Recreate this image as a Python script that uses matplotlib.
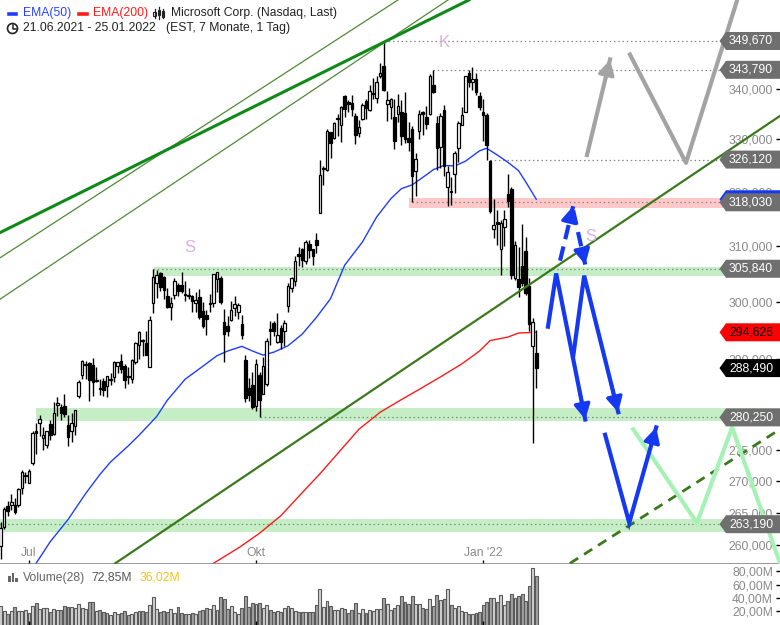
import numpy as np
import matplotlib
matplotlib.use('Agg')
import matplotlib.pyplot as plt
from matplotlib.patches import Polygon, Circle, Rectangle
from matplotlib.lines import Line2D
from matplotlib.transforms import IdentityTransform
from matplotlib.ticker import FixedLocator, FuncFormatter, NullLocator

plt.rcParams['font.family'] = ['Liberation Sans', 'DejaVu Sans']

# ---------------- data (trading-day index 0 = 21.06.2021 ... 151 = 25.01.2022)
opens = [259.82, 262.72, 265.99, 266.16, 266.23, 266.19, 268.87, 270.69,
         269.61, 272.82, 278.03, 279.40, 276.90, 275.72, 279.16, 277.52, 282.35, 282.00, 282.07,
         278.93, 278.03, 278.90, 283.84, 287.37, 289.00, 289.43, 288.99, 286.24, 285.18,
         286.36, 285.42, 286.42, 286.90, 288.90, 289.75, 288.80, 287.21, 286.63, 289.48, 292.36,
         293.19, 292.70, 288.69, 299.72, 303.25, 305.02, 304.30, 300.99, 298.99, 301.12, 302.87,
         302.87, 301.31, 300.99, 301.01, 299.78, 300.82, 298.42, 297.55, 299.56, 299.78, 303.97,
         304.17, 296.33, 295.69, 296.73, 298.85, 298.23, 296.14, 289.80, 285.10, 285.71,
         282.12, 287.40, 284.05, 285.78, 295.18, 296.22, 292.92, 295.34, 294.91, 299.21, 302.34,
         303.57, 308.35, 309.36, 307.17, 310.40, 309.36, 311.00, 316.00, 324.33, 324.13,
         331.36, 330.31, 333.90, 332.89, 338.51, 337.30, 337.11, 334.57, 331.25, 333.92, 337.54,
         335.68, 338.94, 338.18, 342.64, 344.62, 337.05, 336.28, 334.35, 334.94, 335.32,
         335.13, 330.30, 331.99, 323.95, 331.64, 335.31, 334.41, 334.98, 340.68, 333.22, 328.61,
         335.71, 320.88, 320.05, 323.29, 328.30, 332.75, 335.46, 343.15, 341.30, 341.91, 338.51,
         335.35, 334.83, 325.86, 313.15, 314.15, 309.49, 313.38, 319.67, 320.47, 304.25, 304.07,
         306.29, 309.07, 302.69, 292.20, 291.12]
highs = [263.52, 265.79, 266.83, 267.85, 267.25, 268.90, 271.65, 271.36,
         271.84, 278.00, 279.37, 280.69, 278.73, 278.05, 279.77, 282.85, 283.66, 282.51, 284.10,
         280.69, 280.97, 281.52, 286.42, 289.85, 289.69, 289.58, 290.15, 288.62, 286.66,
         286.77, 287.23, 287.59, 289.63, 289.50, 290.88, 289.25, 288.66, 289.97, 292.90, 294.82,
         293.42, 294.82, 297.47, 305.84, 305.65, 305.32, 304.59, 302.43, 300.87, 304.15, 303.24,
         305.19, 303.65, 302.40, 301.09, 301.61, 302.14, 299.92, 298.54, 301.39, 304.60, 305.31,
         304.50, 298.72, 297.54, 300.07, 300.90, 299.80, 297.61, 290.78, 286.77, 287.83,
         289.98, 287.75, 290.40, 293.63, 296.64, 296.64, 297.97, 295.95, 296.83, 303.35, 304.45,
         308.21, 309.70, 309.55, 311.09, 311.09, 309.40, 312.40, 326.10, 324.86, 332.00,
         331.49, 333.45, 334.90, 336.54, 338.79, 337.65, 338.72, 335.19, 333.77, 337.23, 337.88,
         340.67, 342.19, 342.45, 345.10, 349.67, 339.45, 338.16, 337.93, 339.03, 337.78,
         339.28, 333.49, 332.70, 327.45, 335.80, 335.50, 336.49, 343.00, 343.79, 334.64, 335.19,
         336.76, 324.92, 322.80, 327.73, 333.61, 336.39, 342.48, 343.81, 344.30, 343.13, 339.36,
         338.00, 335.20, 326.07, 318.70, 316.50, 314.72, 316.61, 323.41, 320.88, 310.82, 309.80,
         313.91, 311.65, 304.11, 297.11, 294.99]
lows = [257.92, 262.40, 264.43, 265.47, 264.76, 265.91, 267.98, 269.60,
        269.60, 272.50, 274.30, 277.15, 274.87, 275.32, 276.58, 277.39, 280.55, 279.83, 280.28,
        275.59, 276.26, 277.29, 283.42, 286.64, 286.64, 282.95, 283.83, 286.08, 283.91,
        283.74, 283.65, 285.65, 286.10, 287.62, 287.71, 285.20, 285.86, 285.93, 289.25, 290.03,
        290.50, 290.69, 288.64, 298.06, 300.70, 301.84, 300.42, 298.95, 296.83, 300.38, 301.00,
        301.49, 300.14, 300.39, 298.20, 298.10, 297.00, 295.38, 294.08, 298.10, 299.00, 301.74,
        299.52, 289.52, 294.07, 296.52, 297.53, 296.93, 293.50, 282.75, 283.01, 281.62,
        281.29, 280.25, 284.05, 285.51, 292.36, 293.92, 292.75, 291.73, 292.24, 298.24, 301.74,
        302.69, 306.33, 306.11, 306.70, 307.80, 306.46, 308.60, 316.00, 321.36, 323.90,
        326.37, 330.00, 330.65, 329.51, 334.42, 335.42, 334.53, 329.13, 330.51, 333.79, 334.03,
        335.51, 338.00, 337.12, 342.20, 339.55, 333.56, 333.91, 328.12, 333.41, 328.99,
        329.39, 327.80, 318.03, 319.23, 330.10, 330.80, 332.12, 334.79, 339.08, 324.11, 324.50,
        323.02, 317.25, 317.57, 319.80, 325.75, 332.73, 335.43, 340.32, 339.68, 338.82, 335.85,
        329.78, 326.12, 315.98, 311.49, 310.09, 304.69, 309.89, 317.08, 304.00, 303.75, 300.76,
        302.71, 301.14, 294.90, 276.05, 285.17]
closes = [262.63, 265.51, 265.27, 266.69, 265.02, 268.72, 271.40, 270.90,
          271.60, 277.65, 277.66, 279.93, 277.42, 277.94, 277.32, 280.98, 282.51, 281.03, 280.75,
          277.01, 279.32, 281.40, 286.14, 289.67, 289.05, 286.54, 286.22, 286.50, 284.91,
          284.82, 287.12, 286.51, 289.52, 289.46, 288.33, 286.44, 286.95, 289.81, 292.85, 294.60,
          293.08, 290.73, 296.77, 304.36, 304.65, 302.62, 302.01, 299.09, 299.72, 303.59, 301.88,
          301.83, 301.15, 301.14, 300.18, 300.21, 297.25, 295.71, 296.99, 299.79, 304.82, 305.22,
          299.87, 294.30, 294.80, 298.58, 299.56, 299.35, 294.17, 283.52, 284.00, 281.92,
          289.10, 283.11, 288.76, 293.11, 294.85, 294.85, 294.23, 292.88, 296.31, 302.75, 304.21,
          307.29, 308.23, 307.41, 310.76, 309.16, 308.13, 310.11, 323.17, 324.35, 331.62,
          329.37, 333.13, 334.00, 336.44, 336.06, 336.99, 335.95, 330.80, 332.43, 336.72, 336.07,
          339.51, 339.12, 341.27, 343.11, 339.83, 337.68, 337.91, 329.68, 336.63, 330.59,
          330.08, 329.49, 323.01, 326.19, 334.92, 334.97, 333.10, 342.54, 339.40, 328.34, 334.65,
          324.90, 323.80, 319.91, 327.29, 333.20, 334.69, 342.45, 341.25, 341.95, 339.32, 336.32,
          334.75, 329.01, 316.38, 313.88, 314.04, 314.27, 314.98, 318.27, 304.80, 310.20, 302.65,
          303.33, 301.60, 296.03, 296.37, 288.49]
volumes = [26.7, 19.7, 14.9, 19.4, 25.0, 19.6, 19.3, 21.6,
           16.7, 26.5, 31.6, 23.3, 24.6, 23.9, 17.9, 23.3, 21.6, 20.6, 27.1, 26.4, 26.4, 24.4,
           30.5, 24.9, 23.3, 33.6, 33.6, 18.9, 20.9,
           17.6, 16.4, 14.1, 18.3, 15.0, 17.0, 19.0, 13.9, 14.6, 18.2, 19.5, 19.3, 18.1, 29.0,
           40.8, 22.8, 18.2, 20.0, 17.7, 22.6, 16.5, 26.3,
           17.2, 14.6, 14.7, 17.1, 15.0, 18.9, 21.4, 23.6, 21.9, 28.4, 21.8, 41.4, 38.3, 22.4,
           26.6, 18.6, 14.9, 23.6, 43.2, 26.4, 32.3,
           30.1, 31.3, 24.9, 28.0, 20.4, 17.7, 19.2, 17.7, 23.4, 27.3, 24.7, 19.4, 17.6, 17.3,
           18.1, 17.4, 17.6, 28.1, 52.6, 25.4, 34.8,
           27.1, 21.0, 21.5, 23.9, 22.6, 17.0, 21.3, 32.4, 16.4, 22.3, 16.7, 20.9, 19.0, 21.9,
           22.5, 40.1, 30.4, 21.7, 24.2, 28.6, 42.9,
           33.4, 30.1, 41.8, 30.0, 31.0, 24.8, 22.2, 38.1, 27.9, 43.3, 35.8, 37.4, 52.5, 28.3,
           23.7, 26.5, 18.9, 17.9, 15.0, 15.0, 15.9, 18.0,
           28.9, 32.7, 40.1, 40.0, 32.7, 44.3, 29.4, 34.4, 45.4, 39.8, 42.3, 45.9, 35.4, 57.9,
           85.8, 72.85]

ema50_idx = [8, 10, 14, 19, 24, 28, 31, 36, 39, 44, 47, 52, 57, 61, 64, 68, 71, 74, 77, 81,
             85, 89, 93, 97, 102, 106, 110, 113, 116, 120, 122, 125, 128, 131, 135, 137, 140,
             143, 146, 148, 151]
ema50_val = [256.0, 257.2, 260.5, 263.9, 268.0, 271.0, 273.0, 275.6, 277.3, 280.4, 283.1,
             286.6, 288.8, 290.6, 291.4, 292.2, 291.4, 290.7, 291.2, 292.3, 294.3, 297.2,
             300.5, 306.5, 310.7, 315.3, 318.7, 320.6, 321.3, 323.2, 324.2, 325.0, 324.9,
             325.8, 327.8, 328.3, 327.0, 325.6, 324.0, 321.9, 318.6]
ema200_idx = [57, 60, 67.5, 73, 79, 84, 90, 96, 101, 107, 113, 118, 124, 130, 135, 138, 143,
              146, 151]
ema200_val = [256.2, 257.2, 259.7, 261.8, 264.5, 267.5, 271.1, 275.0, 278.3, 281.1, 283.2,
              284.9, 287.0, 289.2, 291.4, 293.2, 293.8, 294.5, 294.626]

tick_idx = [8, 72, 136]
tick_labels = ['Jul', 'Okt', "Jan '22"]
price_ticks = [260, 265, 270, 275, 280, 290, 300, 310, 320, 330, 340]
vol_ticks = [20, 40, 60, 80]

# marked levels and where their dotted lines start (trading-day index)
levels = [349.67, 343.79, 326.12, 318.03, 305.84, 280.25, 263.19]
level_start = [108, 122, 138, 116, 43, 73, -1]
# zones: (level, start index, low, high, colour)
bands = [(318.03, 115.2, 316.9, 318.8, '#ffc8c8'),
         (305.84, 43.2, 304.6, 306.2, '#c6eec6'),
         (280.25, 10.0, 279.7, 281.8, '#c6eec6'),
         (263.19, -1.0, 262.0, 264.0, '#c6eec6')]

# trend lines (index, price)
thick_line = ([-0.2, 132.0], [312.4, 358.2])
thin_line1 = ([-0.2, 112.0], [307.8, 358.2])
thin_line2 = ([-0.2, 126.1], [300.4, 358.2])
support_line = ([32.3, 219.7], [257.2, 334.6])
support_dashed = ([160.5, 219.7], [257.2, 278.3])

# scenario paths (index, price)
blue_path1 = ([154.3, 156.6, 164.8], [295.6, 305.0, 279.9])
blue_path2 = ([161.4, 164.5, 174.1], [290.5, 304.6, 281.1])
blue_dash_up = ([157.7, 161.4], [307.3, 317.3])
blue_dash_down = ([161.4, 164.8], [316.5, 306.6])
blue_v = ([170.4, 177.2, 184.8], [277.4, 263.4, 278.6])
green_path = ([178.3, 196.3, 206.2, 220.5], [278.3, 263.4, 278.6, 256.0])
gray_arrow = ([165.3, 171.8], [327.0, 345.9])
gray_path = ([177.4, 193.2, 208.6], [346.9, 325.5, 360.5])

# ---------------- figure
W, H = 780, 625
fig = plt.figure(figsize=(W / 100, H / 100), dpi=100)
top_h = 564
ax = fig.add_axes([0, (H - top_h) / H, 1, top_h / H])
axv = fig.add_axes([0, 0, 1, (H - top_h) / H])

XMIN, XMAX = -0.17, 219.7
ax.set_yscale('log')
ax.set_xlim(XMIN, XMAX)
ax.set_ylim(257.1, 358.2)

# bands & level lines
for lvl, x0, lo, hi, col in bands:
    ax.fill_between([x0, XMAX], [lo, lo], [hi, hi], color=col, lw=0, zorder=0.5)
X_LABEL_EDGE = 202.8
for lvl, x0 in zip(levels, level_start):
    ax.plot([x0, X_LABEL_EDGE], [lvl, lvl], color='#888888', lw=0.9,
            ls=(0, (1.2, 2.2)), zorder=1)

# EMAs
ax.plot(ema50_idx, ema50_val, color='#1f3dff', lw=1.0, zorder=2)
ax.plot(ema200_idx, ema200_val, color='#ff1a1a', lw=1.0, zorder=2)

# candles
idx = np.arange(len(closes))
o = np.array(opens); c = np.array(closes); hi_ = np.array(highs); lo_ = np.array(lows)
up = c >= o
ax.vlines(idx, lo_, hi_, color='black', lw=1.0, zorder=3)
body_lo = np.minimum(o, c); body_h = np.maximum(np.abs(c - o), 0.25)
ax.bar(idx[up], body_h[up], bottom=body_lo[up], width=0.72, color='white',
       edgecolor='black', lw=0.9, zorder=3.5)
ax.bar(idx[~up], body_h[~up], bottom=body_lo[~up], width=0.72, color='black',
       edgecolor='black', lw=0.9, zorder=3.5)

# trend lines
ax.plot(*thin_line1, color='#4f8a36', lw=0.9, zorder=4)
ax.plot(*thin_line2, color='#4f8a36', lw=0.9, zorder=4)
ax.plot(*thick_line, color='#0f8a18', lw=2.2, zorder=4)
ax.plot(*support_line, color='#3a7a1c', lw=1.6, zorder=4)
ax.plot(*support_dashed, color='#3a7a1c', lw=2.0, ls=(0, (3.5, 2.5)), zorder=4)


def arrow_head(xs, ys, color, lw):
    x0, x1 = xs[-2], xs[-1]
    y0, y1 = np.log(ys[-2]), np.log(ys[-1])
    t = 0.8
    xm = x0 + t * (x1 - x0)
    ym = np.exp(y0 + t * (y1 - y0))
    ax.annotate('', xy=(x1, ys[-1]), xytext=(xm, ym),
                arrowprops=dict(arrowstyle='-|>,head_length=0.75,head_width=0.4',
                                color=color, lw=lw, shrinkA=0, shrinkB=0,
                                mutation_scale=12), zorder=6)


BLUE = '#1538f2'
ax.plot(*green_path, color='#a6f2b6', lw=3, zorder=5, solid_joinstyle='miter')
ax.plot(*gray_path, color='#a3a3a3', lw=3, zorder=5)
ax.plot(*gray_arrow, color='#a3a3a3', lw=3, zorder=5)
arrow_head(*gray_arrow, '#a3a3a3', 2.5)
for path in (blue_path1, blue_path2, blue_v):
    ax.plot(*path, color=BLUE, lw=3, zorder=5.5, solid_joinstyle='miter')
    arrow_head(*path, BLUE, 2.5)
for path in (blue_dash_up, blue_dash_down):
    ax.plot(*path, color=BLUE, lw=3, ls=(0, (3.5, 1.8)), zorder=5.5)
    arrow_head(*path, BLUE, 2.5)

# letters
ax.text(125.0, 349.3, 'K', color='#dcaee6', fontsize=12, ha='center', va='center', zorder=6)
ax.text(53.4, 309.7, 'S', color='#dcaee6', fontsize=12, ha='center', va='center', zorder=6)
ax.text(166.5, 311.7, 'S', color='#dcaee6', fontsize=12, ha='center', va='center', zorder=6)

# axes styling
for s in ('top', 'left', 'right'):
    ax.spines[s].set_visible(False)
ax.spines['bottom'].set_color('#888888')
ax.spines['bottom'].set_linewidth(1.2)
ax.yaxis.tick_right()
ax.yaxis.set_major_locator(FixedLocator(price_ticks))
ax.yaxis.set_minor_locator(NullLocator())
ax.yaxis.set_major_formatter(FuncFormatter(lambda v, p: f'{v:.3f}'.replace('.', ',')))
ax.yaxis.set_minor_formatter(FuncFormatter(lambda v, p: ''))
ax.tick_params(axis='y', which='major', direction='in', length=3, width=1, pad=-5,
               labelsize=8.7, labelcolor='#8a8a8a', color='black')
for lbl in ax.get_yticklabels():
    lbl.set_horizontalalignment('right')
ax.set_xticks(tick_idx)
ax.set_xticklabels(tick_labels)
ax.tick_params(axis='x', direction='in', length=3, width=1, pad=-12.5,
               labelsize=8.7, labelcolor='#8a8a8a', color='black')

# volume panel
vcol = np.where(up, '#d2d2d2', '#a2a2a2')
axv.bar(idx, np.array(volumes) + 3, bottom=-3, width=0.82, color=vcol,
        edgecolor='#5a5a5a', lw=0.8)
axv.set_xlim(XMIN, XMAX)
axv.set_ylim(-1.8, 91.3)
for s in axv.spines.values():
    s.set_visible(False)
axv.yaxis.tick_right()
axv.set_yticks(vol_ticks)
axv.yaxis.set_major_formatter(FuncFormatter(lambda v, p: f'{v:.2f}M'.replace('.', ',')))
axv.tick_params(axis='y', direction='in', length=3, width=1, pad=-5,
                labelsize=8.7, labelcolor='#8a8a8a', color='black')
for lbl in axv.get_yticklabels():
    lbl.set_horizontalalignment('right')
axv.set_xticks(tick_idx)
axv.set_xticklabels([])
axv.tick_params(axis='x', direction='in', length=3, width=1, color='black')

# ---------------- right-side value tags (display pixel coordinates)
fig.canvas.draw()


def tag(price, face, txt_color, label=None):
    y = ax.transData.transform((0, price))[1]
    pts = [(719.5, y), (726, y + 9), (780, y + 9), (780, y - 9), (726, y - 9)]
    fig.add_artist(Polygon(pts, closed=True, facecolor=face, edgecolor='none',
                           transform=IdentityTransform(), zorder=5))
    if label:
        fig.text(751 / W, y / H, label, color=txt_color, fontsize=8.7,
                 ha='center', va='center', zorder=6)


tag(ema50_val[-1], BLUE, 'white')
for lvl in levels:
    tag(lvl, '#6f6f6f', 'white', f'{lvl:.3f}'.replace('.', ','))
tag(ema200_val[-1], '#ff0000', 'black', f'{ema200_val[-1]:.3f}'.replace('.', ','))
tag(closes[-1], '#000000', 'white', f'{closes[-1]:.3f}'.replace('.', ','))


# ---------------- legend / header (pixel positions)
def px(x, y):
    return (x, H - y)


def ftext(x, y, s, color, **kw):
    fig.text(x / W, 1 - y / H, s, color=color, fontsize=8.7, va='center', ha='left', **kw)


fig.add_artist(Line2D([9, 16], [H - 13.5, H - 13.5], color='#1f3dff', lw=2.6,
                      transform=IdentityTransform()))
ftext(23, 13.3, 'EMA(50)', '#2a44ff')
fig.add_artist(Line2D([79, 87], [H - 13.5, H - 13.5], color='#ff1a1a', lw=2.6,
                      transform=IdentityTransform()))
ftext(93, 13.3, 'EMA(200)', '#ff1a1a')
# candle icon
for cx, y0, y1, b0, b1 in [(154.5, 9, 18, 12, 16), (158.8, 7, 19, 10, 15), (163, 9, 18, 11, 17)]:
    fig.add_artist(Line2D([cx, cx], [H - y0, H - y1], color='#222222', lw=0.9,
                          transform=IdentityTransform()))
    fig.add_artist(Rectangle((cx - 1.2, H - b1), 2.4, b1 - b0, facecolor='white',
                             edgecolor='#222222', lw=0.8, transform=IdentityTransform()))
ftext(171, 13.3, 'Microsoft Corp. (Nasdaq, Last)', '#222222')
fig.add_artist(Circle(px(12.5, 28.5), 5.0, facecolor='none', edgecolor='#222222', lw=1.2,
                      transform=IdentityTransform()))
fig.add_artist(Line2D([12.5, 12.5, 15.5], [H - 25, H - 28.5, H - 28.5], color='#222222',
                      lw=1.1, transform=IdentityTransform()))
ftext(23, 28.3, '21.06.2021 - 25.01.2022', '#222222')
ftext(166, 28.3, '(EST, 7 Monate, 1 Tag)', '#222222')

# volume header
for bx, bh in [(8, 6), (11.5, 9), (15, 4)]:
    fig.add_artist(Rectangle((bx, H - 582), 2.6, bh, facecolor='#666666', edgecolor='none',
                             transform=IdentityTransform()))
ftext(23, 577.5, 'Volume(28)', '#666666')
ftext(91.5, 577.5, '72,85M', '#555555')
ftext(139.5, 577.5, '36,02M', '#f2c418')

fig.savefig('out.png', dpi=100)
